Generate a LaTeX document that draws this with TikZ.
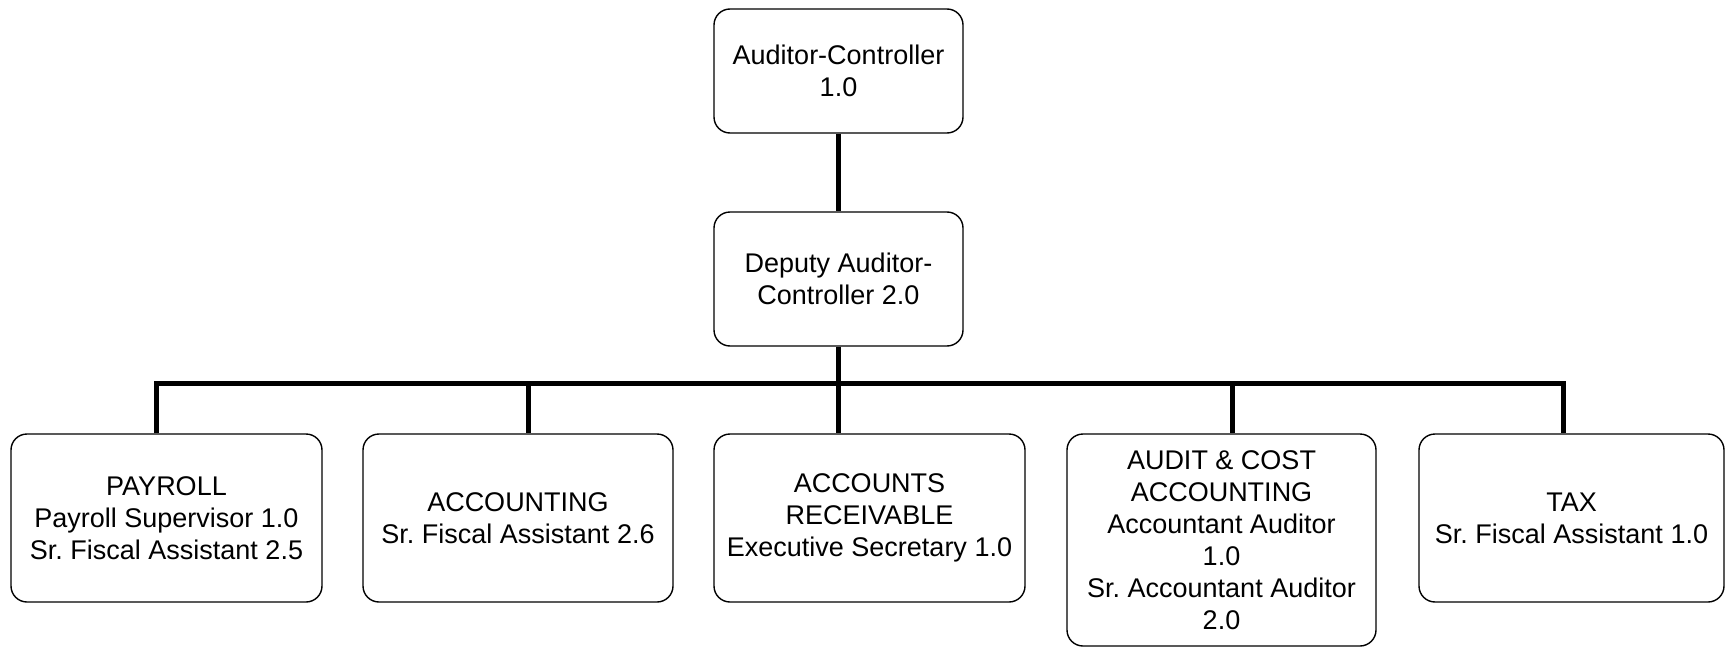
\documentclass[tikz,border=0pt]{standalone}
\usepackage{fontspec}
\setmainfont{Liberation Sans}
\frenchspacing
\begin{document}
\begin{tikzpicture}[x=0.5pt,y=-0.5pt,
  box/.style={draw=black, line width=0.7pt, rounded corners=8pt, align=center,
    inner sep=0pt, font=\fontsize{13.5}{16}\selectfont},
  link/.style={line width=2.5pt, line cap=butt}]
\useasboundingbox (0,0) rectangle (1726,648);
% nodes
\node[box, minimum width=124.5pt, minimum height=62pt] (top) at (838.5,71) {Auditor-Controller\\1.0};
\node[box, minimum width=124.5pt, minimum height=67pt] (dep) at (838.5,279) {Deputy Auditor-\\Controller 2.0};
\node[box, minimum width=155.5pt, minimum height=84pt] (pay) at (166.5,518) {PAYROLL\\Payroll Supervisor 1.0\\Sr. Fiscal Assistant 2.5};
\node[box, minimum width=155pt, minimum height=84pt] (acc) at (518,518) {ACCOUNTING\\Sr. Fiscal Assistant 2.6};
\node[box, minimum width=155.5pt, minimum height=84pt] (ar) at (869.5,518) {ACCOUNTS\\RECEIVABLE\\Executive Secretary 1.0};
\node[box, minimum width=154.5pt, minimum height=106pt] (aud) at (1221.5,540) {AUDIT \& COST\\ACCOUNTING\\Accountant Auditor\\1.0\\Sr. Accountant Auditor\\2.0};
\node[box, minimum width=152.5pt, minimum height=84pt] (tax) at (1571.5,518) {TAX\\Sr. Fiscal Assistant 1.0};
% bar junctions
\coordinate (jpay) at (156,383);
\coordinate (jacc) at (528,383);
\coordinate (jar) at (838,383);
\coordinate (jaud) at (1232,383);
\coordinate (jtax) at (1563,383);
% connectors
\draw[link] (top.south) -- (dep.north);
\draw[link] (dep.south) -- (dep.south |- jar);
\draw[link] (jpay |- pay.north) -- (jpay) -- (jtax) -- (jtax |- tax.north);
\draw[link] (jacc) -- (jacc |- acc.north);
\draw[link] (jar) -- (jar |- ar.north);
\draw[link] (jaud) -- (jaud |- aud.north);
\end{tikzpicture}
\end{document}
